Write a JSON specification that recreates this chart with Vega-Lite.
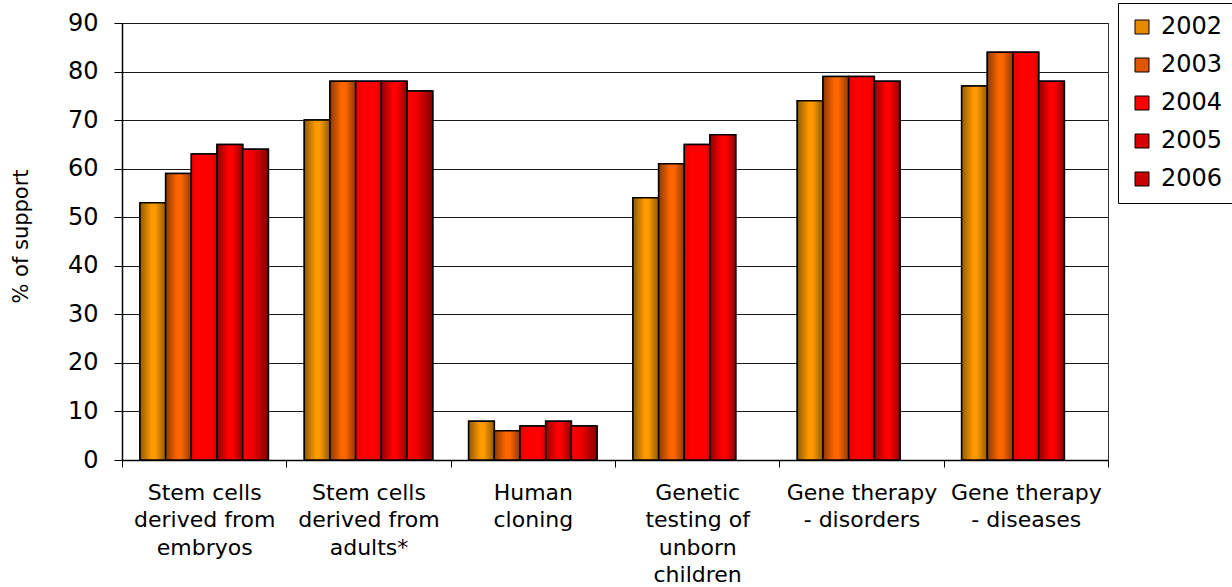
{
  "$schema": "https://vega.github.io/schema/vega-lite/v6.json",
  "autosize": {"type": "none"},
  "padding": {"left": 122, "top": 23, "right": 124, "bottom": 127},
  "width": 986,
  "height": 437,
  "background": "white",
  "config": {
    "font": "DejaVu Sans",
    "view": {"stroke": "#333333", "strokeWidth": 1}
  },
  "data": {
    "values": [
      {"category": "Stem cells\nderived from\nembryos", "year": "2002", "support": 53},
      {"category": "Stem cells\nderived from\nembryos", "year": "2003", "support": 59},
      {"category": "Stem cells\nderived from\nembryos", "year": "2004", "support": 63},
      {"category": "Stem cells\nderived from\nembryos", "year": "2005", "support": 65},
      {"category": "Stem cells\nderived from\nembryos", "year": "2006", "support": 64},
      {"category": "Stem cells\nderived from\nadults*", "year": "2002", "support": 70},
      {"category": "Stem cells\nderived from\nadults*", "year": "2003", "support": 78},
      {"category": "Stem cells\nderived from\nadults*", "year": "2004", "support": 78},
      {"category": "Stem cells\nderived from\nadults*", "year": "2005", "support": 78},
      {"category": "Stem cells\nderived from\nadults*", "year": "2006", "support": 76},
      {"category": "Human\ncloning", "year": "2002", "support": 8},
      {"category": "Human\ncloning", "year": "2003", "support": 6},
      {"category": "Human\ncloning", "year": "2004", "support": 7},
      {"category": "Human\ncloning", "year": "2005", "support": 8},
      {"category": "Human\ncloning", "year": "2006", "support": 7},
      {"category": "Genetic\ntesting of\nunborn\nchildren", "year": "2002", "support": 54},
      {"category": "Genetic\ntesting of\nunborn\nchildren", "year": "2003", "support": 61},
      {"category": "Genetic\ntesting of\nunborn\nchildren", "year": "2004", "support": 65},
      {"category": "Genetic\ntesting of\nunborn\nchildren", "year": "2005", "support": 67},
      {"category": "Gene therapy\n- disorders", "year": "2002", "support": 74},
      {"category": "Gene therapy\n- disorders", "year": "2003", "support": 79},
      {"category": "Gene therapy\n- disorders", "year": "2004", "support": 79},
      {"category": "Gene therapy\n- disorders", "year": "2005", "support": 78},
      {"category": "Gene therapy\n- diseases", "year": "2002", "support": 77},
      {"category": "Gene therapy\n- diseases", "year": "2003", "support": 84},
      {"category": "Gene therapy\n- diseases", "year": "2004", "support": 84},
      {"category": "Gene therapy\n- diseases", "year": "2005", "support": 78}
    ]
  },
  "encoding": {
    "x": {
      "field": "category",
      "type": "nominal",
      "sort": null,
      "scale": {"paddingInner": 0, "paddingOuter": 0},
      "axis": {
        "title": null,
        "labelAngle": 0,
        "labelExpr": "split(datum.label, '\\n')",
        "labelFontSize": 22,
        "labelColor": "black",
        "labelLineHeight": 27.5,
        "labelPadding": 15,
        "labelBaseline": "top",
        "tickBand": "extent",
        "tickSize": 7,
        "tickColor": "black",
        "domainColor": "black",
        "domainWidth": 1.5,
        "grid": false,
        "labelLimit": 200
      }
    },
    "xOffset": {
      "field": "year",
      "type": "nominal",
      "scale": {"paddingInner": 0, "paddingOuter": 0.7}
    },
    "y": {
      "field": "support",
      "type": "quantitative",
      "scale": {"domain": [0, 90], "nice": false},
      "axis": {
        "title": "% of support",
        "titleFontSize": 21,
        "titleFontWeight": "normal",
        "titleColor": "black",
        "titleX": -101,
        "titleY": 213,
        "titleAlign": "center",
        "titleBaseline": "middle",
        "titleAngle": -90,
        "values": [0, 10, 20, 30, 40, 50, 60, 70, 80, 90],
        "labelFontSize": 24,
        "labelColor": "black",
        "labelPadding": 16,
        "tickSize": 8,
        "tickColor": "black",
        "domainColor": "black",
        "domainWidth": 1.5,
        "grid": true,
        "gridColor": "#1a1a1a",
        "gridWidth": 1
      }
    }
  },
  "layer": [
    {
      "mark": {"type": "bar", "stroke": "black", "strokeWidth": 1.5},
      "encoding": {
        "color": {
          "field": "year",
          "type": "nominal",
          "scale": {
            "domain": ["2002", "2003", "2004", "2005", "2006"],
            "range": ["#e88a00", "#e05500", "#ff0000", "#d80000", "#c80000"]
          },
          "legend": {
            "title": null,
            "orient": "none",
            "legendX": 996,
            "legendY": -20,
            "direction": "vertical",
            "symbolType": "square",
            "symbolSize": 196,
            "symbolStrokeColor": "black",
            "symbolStrokeWidth": 1,
            "symbolOpacity": 1,
            "labelFontSize": 24,
            "labelColor": "black",
            "labelOffset": 7,
            "rowPadding": 14,
            "padding": 12,
            "strokeColor": "black",
            "fillColor": "white",
            "labelLimit": 200
          }
        }
      }
    },
    {
      "transform": [{"filter": "datum.year === '2002'"}],
      "mark": {"type": "bar", "stroke": "black", "strokeWidth": 1.5,
        "fill": {"gradient": "linear", "x1": 0, "y1": 0, "x2": 1, "y2": 0, "stops": [{"offset": 0, "color": "#8c5a00"}, {"offset": 0.45, "color": "#ff9900"}, {"offset": 0.6, "color": "#ff9900"}, {"offset": 1, "color": "#8c5a00"}]}}
    },
    {
      "transform": [{"filter": "datum.year === '2003'"}],
      "mark": {"type": "bar", "stroke": "black", "strokeWidth": 1.5,
        "fill": {"gradient": "linear", "x1": 0, "y1": 0, "x2": 1, "y2": 0, "stops": [{"offset": 0, "color": "#8c3a00"}, {"offset": 0.45, "color": "#ff6600"}, {"offset": 0.6, "color": "#ff6600"}, {"offset": 1, "color": "#8c3a00"}]}}
    },
    {
      "transform": [{"filter": "datum.year === '2004'"}],
      "mark": {"type": "bar", "stroke": "black", "strokeWidth": 1.5,
        "fill": {"gradient": "linear", "x1": 0, "y1": 0, "x2": 1, "y2": 0, "stops": [{"offset": 0, "color": "#e60000"}, {"offset": 0.3, "color": "#ff0000"}, {"offset": 0.8, "color": "#ff0000"}, {"offset": 1, "color": "#d00000"}]}}
    },
    {
      "transform": [{"filter": "datum.year === '2005'"}],
      "mark": {"type": "bar", "stroke": "black", "strokeWidth": 1.5,
        "fill": {"gradient": "linear", "x1": 0, "y1": 0, "x2": 1, "y2": 0, "stops": [{"offset": 0, "color": "#900000"}, {"offset": 0.45, "color": "#ff0000"}, {"offset": 0.6, "color": "#ff0000"}, {"offset": 1, "color": "#900000"}]}}
    },
    {
      "transform": [{"filter": "datum.year === '2006'"}],
      "mark": {"type": "bar", "stroke": "black", "strokeWidth": 1.5,
        "fill": {"gradient": "linear", "x1": 0, "y1": 0, "x2": 1, "y2": 0, "stops": [{"offset": 0, "color": "#ff0000"}, {"offset": 0.4, "color": "#ee0000"}, {"offset": 1, "color": "#800000"}]}}
    }
  ]
}
